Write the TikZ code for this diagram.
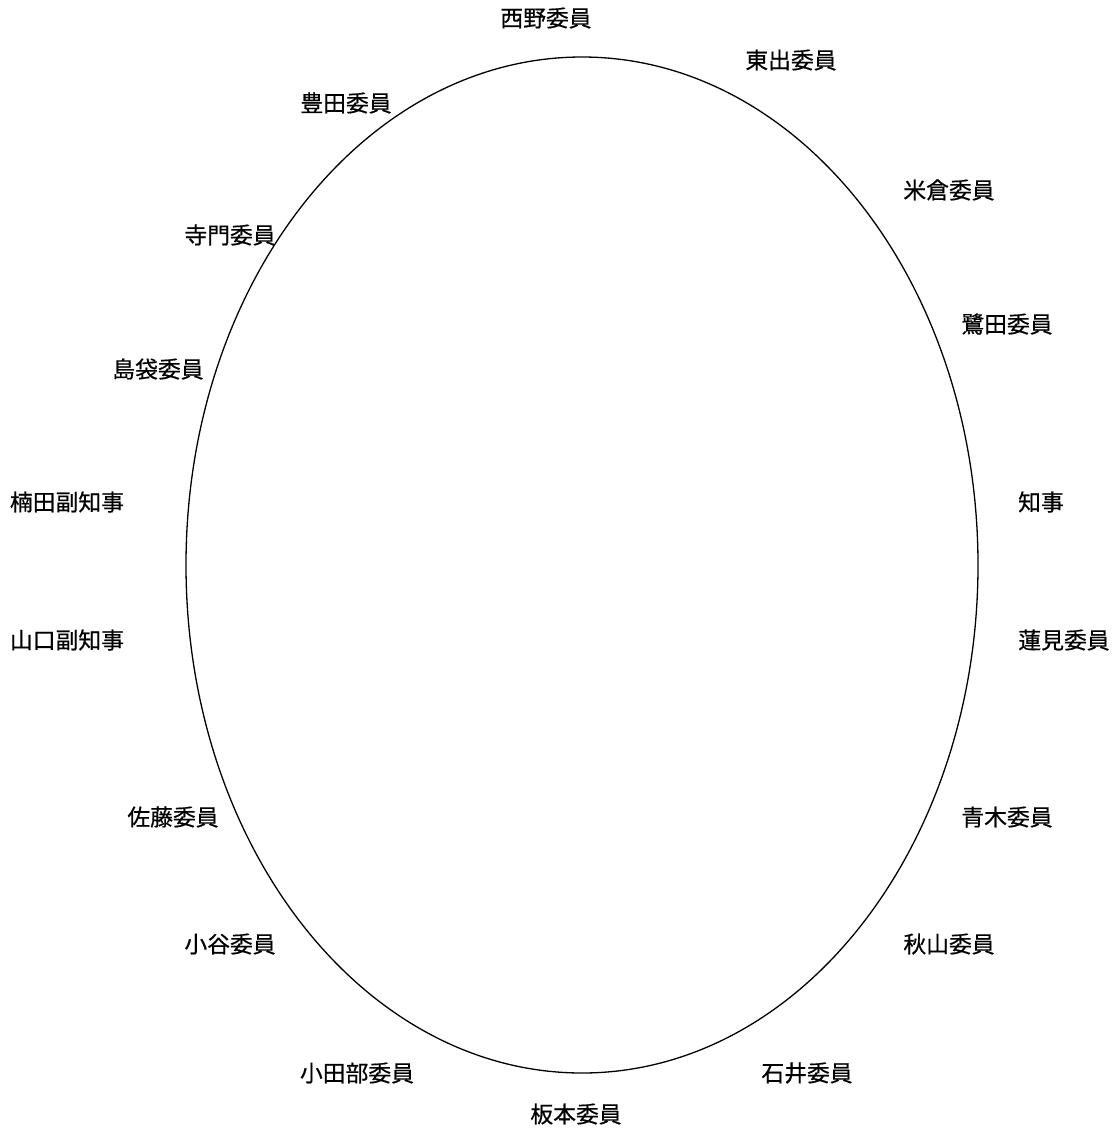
\documentclass[tikz,border=0pt]{standalone}
\usepackage{fontspec}
\setmainfont{Noto Sans CJK JP}
\newfontfamily\seatfont[FakeBold=0.6]{Noto Sans CJK JP}
\begin{document}
\begin{tikzpicture}[x=0.5pt, y=-0.5pt, line join=round, line cap=round, font=\seatfont\fontsize{11.4pt}{13pt}\selectfont]
	\tikzset{seat/.style={inner sep=0pt, text=black}}
	% Khung
	\useasboundingbox (0, 0) rectangle (1115, 1130);
	
	% Bàn tròn
	\draw[line width=0.65pt] (582, 565) ellipse (396 and 508);
	
	% Tên các ghế
	\foreach \n/\x/\y/\t in {
		nishino/546/18/西野委員, higashide/791/60/東出委員, toyota/346/103/豊田委員,
		yonekura/949/190/米倉委員, terakado/230/235/寺門委員, sagita/1007/324/鷺田委員,
		shimabukuro/158/369/島袋委員, kusuda/67/502/楠田副知事, chiji/1041/502/知事,
		yamaguchi/67/640/山口副知事, hasumi/1064/640/蓮見委員, sato/173/817/佐藤委員,
		aoki/1007/817/青木委員, kotani/230/944/小谷委員, akiyama/949/944/秋山委員,
		otabe/357/1073/小田部委員, ishii/807/1073/石井委員, itamoto/576/1114/板本委員} {
		\node[seat] (\n) at (\x, \y) {\t};
	}
\end{tikzpicture}
\end{document}
